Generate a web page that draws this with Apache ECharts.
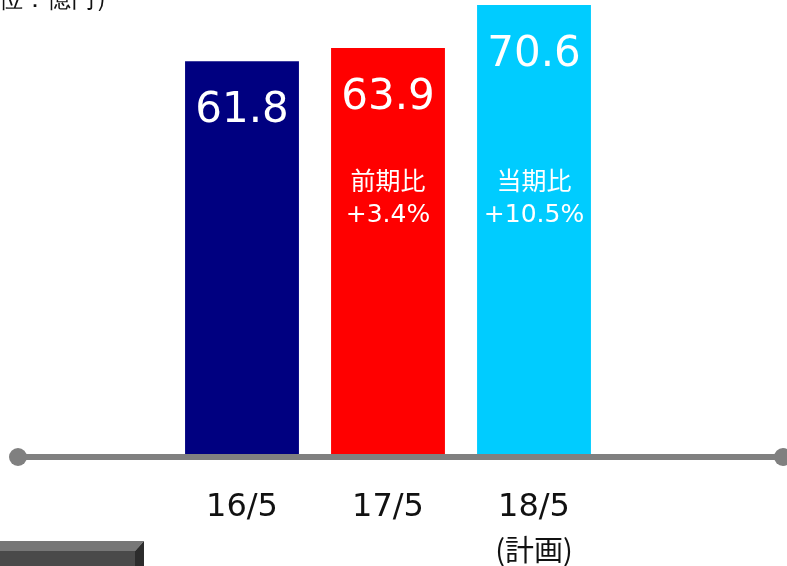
<!DOCTYPE html>
<html>
<head>
<meta charset="utf-8">
<script src="https://cdn.jsdelivr.net/npm/echarts@6/dist/echarts.min.js"></script>
<style>
html, body { margin: 0; padding: 0; background: #fff; }
#chart { width: 787px; height: 566px; }
</style>
</head>
<body>
<div id="chart"></div>
<script>
const periods = ['16/5', '17/5', '18/5']
const periodNotes = ['', '', '(計画)']
const sales = [61.8, 63.9, 70.6]
const barColors = ['#000080', '#ff0000', '#00ccff']
const growthTitles = ['', '前期比', '当期比']
const growthRates = ['', '+3.4%', '+10.5%']
const unitText = '（単位：億円）'

const latin = 'DejaVu Sans, Noto Sans CJK JP, sans-serif'
const cjk = 'Noto Sans CJK JP, DejaVu Sans, sans-serif'

const chart = echarts.init(document.querySelector('#chart'))
chart.setOption({
	animation: false,
	grid: { left: 169, width: 438, top: 5, height: 452 },
	xAxis: {
		type: 'category',
		data: periods,
		axisLine: { show: false },
		axisTick: { show: false },
		axisLabel: {
			margin: 30,
			formatter: (v, i) => periodNotes[i] ? '{a|' + v + '}\n{b|' + periodNotes[i] + '}' : '{a|' + v + '}',
			rich: {
				a: { fontSize: 32, lineHeight: 42, color: '#111', fontFamily: latin },
				b: { fontSize: 29, lineHeight: 42, color: '#111', fontFamily: cjk }
			}
		}
	},
	yAxis: {
		type: 'value',
		min: 0,
		max: 70.6,
		show: false,
		splitLine: { show: false }
	},
	series: [{
		type: 'bar',
		barCategoryGap: '22%',
		data: sales.map((v, i) => ({ value: v, itemStyle: { color: barColors[i] } })),
		label: {
			show: true,
			position: 'insideTop',
			distance: 29,
			color: '#fff',
			fontSize: 42,
			fontFamily: latin
		}
	}]
})

const baseY = chart.convertToPixel({ gridIndex: 0 }, [0, 0])[1]
const graphics = [
	{ type: 'line', shape: { x1: 18, y1: baseY, x2: 782, y2: baseY }, style: { stroke: '#808080', lineWidth: 6 }, z: 10 },
	{ type: 'circle', shape: { cx: 18, cy: baseY, r: 9 }, style: { fill: '#808080' }, z: 10 },
	{ type: 'circle', shape: { cx: 783, cy: baseY, r: 9 }, style: { fill: '#808080' }, z: 10 },
	{ type: 'text', left: -49, top: -12, style: { text: unitText, fontSize: 24, fill: '#111', font: '24px ' + cjk }, z: 10 },
	// 左下の飾りボックス
	{ type: 'polygon', shape: { points: [[0, 541], [144, 541], [135, 551], [0, 551]] }, style: { fill: '#777' } },
	{ type: 'rect', shape: { x: 0, y: 551, width: 135, height: 15 }, style: { fill: '#4a4a4a' } },
	{ type: 'polygon', shape: { points: [[135, 551], [144, 541], [144, 566], [135, 566]] }, style: { fill: '#2c2c2c' } }
]
periods.forEach((p, i) => {
	if (!growthTitles[i]) return
	const x = chart.convertToPixel({ gridIndex: 0 }, [i, 0])[0]
	graphics.push({
		type: 'text', x: x, y: 199, z: 10,
		style: {
			text: growthTitles[i] + '\n' + growthRates[i],
			fill: '#fff', fontSize: 25, lineHeight: 32,
			fontFamily: latin, align: 'center', verticalAlign: 'middle'
		}
	})
})
chart.setOption({ graphic: graphics })
</script>
</body>
</html>
